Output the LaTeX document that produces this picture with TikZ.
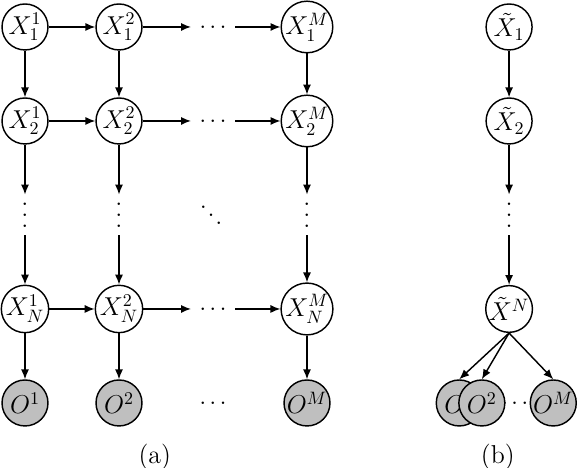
\documentclass[tikz,border=0pt]{standalone}
\usepackage{amsmath,amssymb}
\usepackage{tikz}
\usetikzlibrary{arrows.meta}
% dots with a fixed spacing
\newcommand{\rowdots}{\hbox{.\kern1.7pt.\kern1.7pt.}}
\newcommand{\coldots}{\vbox{\baselineskip=6pt\lineskiplimit=0pt\hbox{.}\hbox{.}\hbox{.}}}
\newcommand{\diagdots}{\hbox{\raise4.4pt\hbox{.}\kern0.4pt.\kern0.4pt\lower4.4pt\hbox{.}}}

\begin{document}
\begin{tikzpicture}[
    x=1.84cm,y=-1.84cm,
    st/.style   = {circle,draw,thick,fill=white,minimum size=0.9cm,inner sep=0pt,
                   font=\Large},
    obs/.style  = {st,fill=gray!50},
    dt/.style   = {inner sep=4.5pt,font=\Large},
    fl/.style   = {-{Latex[length=5.5pt,width=4.5pt]},thick},
    tag/.style  = {font=\Large},
  ]
  \useasboundingbox (-0.266,-0.287) rectangle (5.883,4.691);

  % (a) grid of chains
  \foreach \c/\s in {0/1,1/2,3/M} {
    \node[st]  (x1\s) at (\c,0) {$X_1^{\s}$};
    \node[st]  (x2\s) at (\c,1) {$X_2^{\s}$};
    \node[dt]  (v\s)  at (\c,2) {\coldots};
    \node[st]  (xn\s) at (\c,3) {$X_N^{\s}$};
    \node[obs] (o\s)  at (\c,4) {$O^{\s}$};
    \foreach \a/\b in {x1\s/x2\s,x2\s/v\s,v\s/xn\s,xn\s/o\s} \draw[fl] (\a) -- (\b);
  }
  \foreach \r/\y in {1/0,2/1,n/3} {
    \node[dt] (h\r) at (2,\y) {\rowdots};
    \draw[fl] (x\r1) -- (x\r2);
    \draw[fl] (x\r2) -- (h\r);
    \draw[fl] (h\r) -- (x\r M);
  }
  \node[dt] (dd) at (1.98,2) {\diagdots};
  \node[dt] (ho) at (2,4) {\rowdots};

  % (b) single chain
  \node[st]  (t1) at (5.15,0) {$\tilde{X}_1$};
  \node[st]  (t2) at (5.15,1) {$\tilde{X}_2$};
  \node[dt]  (tv) at (5.15,2) {\coldots};
  \node[st]  (tn) at (5.15,3) {$\tilde{X}^N$};
  \node[dt]  (pd) at (5.21,4) {\rowdots};
  \node[obs] (p1) at (4.62,4) {$O^1$};
  \node[obs] (p2) at (4.86,4) {$O^2$};
  \node[obs] (pM) at (5.62,4) {$O^M$};
  \foreach \a/\b in {t1/t2,t2/tv,tv/tn} \draw[fl] (\a) -- (\b);
  \foreach \b in {p1,p2,pM} \draw[fl] (tn.south) -- (\b.north);

  \node[tag] (la) at (1.38,4.57) {(a)};
  \node[tag] (lb) at (5.03,4.57) {(b)};

\end{tikzpicture}
\end{document}
